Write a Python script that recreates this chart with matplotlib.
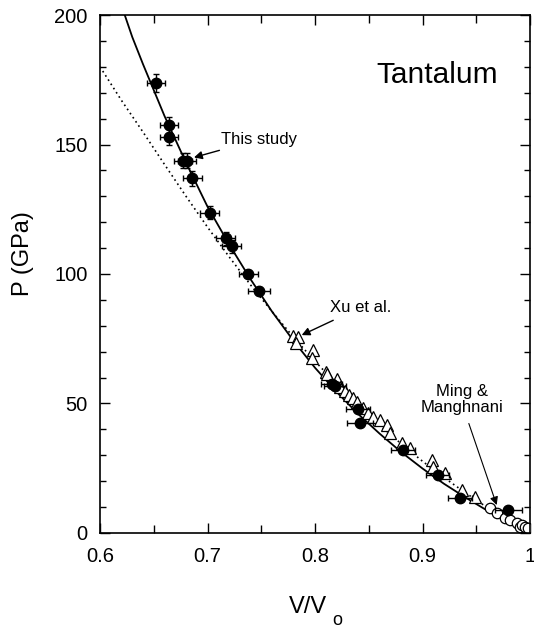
"""
Tantalum compression curve: P versus V/Vo with this study, Xu et al. and Ming & Manghnani.
"""
import matplotlib
matplotlib.use("Agg")
import matplotlib.pyplot as plt
from matplotlib.ticker import MultipleLocator, FixedLocator

plt.rcParams["font.family"] = ["Liberation Sans", "DejaVu Sans"]

# This study (filled circles with error bars)
study_v = [0.652, 0.664, 0.664, 0.6775, 0.681, 0.686, 0.702, 0.717, 0.7225,
           0.738, 0.748, 0.8155, 0.8186, 0.840, 0.842, 0.882, 0.914, 0.935, 0.9798]
study_p = [173.9, 157.5, 153.0, 143.8, 143.8, 136.9, 123.7, 113.8, 110.8,
           99.9, 93.5, 57.5, 56.8, 47.8, 42.4, 32.0, 22.4, 13.4, 8.9]
study_verr = [0.0085, 0.0085, 0.0085, 0.0085, 0.0085, 0.0085, 0.009, 0.009, 0.009,
              0.009, 0.010, 0.010, 0.010, 0.011, 0.012, 0.011, 0.011, 0.011, 0.0125]
study_perr = [3.5, 3.0, 3.0, 3.0, 3.0, 3.0, 2.5, 2.5, 2.5,
              1.5, 1.5, 1.5, 1.5, 1.0, 1.0, 1.0, 1.0, 1.0, 1.0]

# Xu et al. (open triangles)
xu_v = [0.7798, 0.7845, 0.7823, 0.7984, 0.7969, 0.8102, 0.8109, 0.8202, 0.8233,
        0.8279, 0.8319, 0.8356, 0.8393, 0.8449, 0.8496, 0.8542, 0.8605, 0.8667,
        0.8698, 0.8806, 0.8884, 0.9086, 0.9100, 0.921, 0.9365, 0.9488]
xu_p = [76.1, 75.6, 73.5, 70.7, 67.5, 62.3, 61.4, 59.3, 56.5,
        54.9, 53.3, 52.0, 50.7, 48.1, 46.2, 44.9, 43.6, 41.7,
        38.5, 34.6, 32.7, 28.2, 25.4, 23.0, 16.6, 14.0]

# Ming & Manghnani (open circles)
ming_v = [0.9628, 0.969, 0.9767, 0.9814, 0.9876, 0.9907, 0.9923, 0.9953, 0.9984]
ming_p = [9.5, 7.8, 5.7, 5.0, 4.0, 2.2, 3.1, 2.2, 1.8]

# Fitted curve for this study (solid)
fit_v = [0.623, 0.63, 0.64, 0.65, 0.66, 0.67, 0.68, 0.69, 0.70, 0.72, 0.74, 0.76,
         0.78, 0.80, 0.82, 0.84, 0.86, 0.88, 0.90, 0.92, 0.94, 0.96, 0.98, 1.00]
fit_p = [200.0, 191.5, 181.0, 171.0, 161.0, 152.0, 143.0, 134.5, 126.0, 111.5, 98.0, 85.5,
         74.2, 63.8, 54.5, 46.0, 38.4, 31.3, 24.9, 19.0, 13.7, 8.7, 4.2, 0.0]

# Comparison curve (dotted)
dot_v = [0.60, 0.62, 0.64, 0.66, 0.68, 0.70, 0.72, 0.74, 0.76, 0.78, 0.80, 0.82,
         0.84, 0.86, 0.88, 0.90, 0.92, 0.94, 0.96, 0.98, 1.00]
dot_p = [180.0, 167.0, 154.8, 142.3, 130.0, 118.1, 106.7, 95.8, 85.5, 75.6, 66.3, 57.6,
         49.4, 41.7, 34.5, 27.7, 21.4, 15.5, 9.9, 4.8, 0.0]

fig = plt.figure(figsize=(5.34, 6.28), dpi=100)
ax = fig.add_axes([0.1873, 0.1513, 0.8052, 0.8248])

ax.plot(dot_v, dot_p, color="black", lw=1.2, linestyle=(0, (1, 2)))
ax.plot(fit_v, fit_p, color="black", lw=1.3)
ax.plot(xu_v, xu_p, linestyle="none", marker="^", ms=8, mfc="white",
        mec="black", mew=0.9)
ax.plot(ming_v, ming_p, linestyle="none", marker="o", ms=7.5, mfc="white",
        mec="black", mew=0.9)
ax.errorbar(study_v, study_p, xerr=study_verr, yerr=study_perr, fmt="o",
            ms=7.5, color="black", ecolor="black", elinewidth=1.0, capsize=2.5,
            capthick=1.0)

ax.set_xlim(0.6, 1.0)
ax.set_ylim(0, 200)
ax.xaxis.set_major_locator(FixedLocator([0.6, 0.7, 0.8, 0.9, 1.0]))
ax.set_xticklabels(["0.6", "0.7", "0.8", "0.9", "1"])
ax.xaxis.set_minor_locator(MultipleLocator(0.05))
ax.yaxis.set_major_locator(MultipleLocator(50))
ax.yaxis.set_minor_locator(MultipleLocator(10))
ax.tick_params(which="both", direction="in", top=True, right=True,
               labelsize=14.5, width=1.0)
ax.tick_params(axis="x", which="major", length=7, pad=10)
ax.tick_params(axis="x", which="minor", length=6)
ax.tick_params(axis="y", which="major", length=7, pad=9)
ax.tick_params(axis="y", which="minor", length=4)
for spine in ax.spines.values():
    spine.set_linewidth(1.2)

ax.set_ylabel("P (GPa)", fontsize=17, va="center")
ax.yaxis.set_label_coords(-0.179, 0.54)
ax.set_xlabel("V/V", fontsize=17, va="top")
ax.xaxis.set_label_coords(0.484, -0.121)
ax.text(0.541, -0.168, "o", transform=ax.transAxes, fontsize=13,
        ha="left", va="center")

ax.text(0.784, 0.885, "Tantalum", transform=ax.transAxes, fontsize=21.5,
        ha="center", va="center")

ax.annotate("This study", xy=(0.6874, 145.0), xytext=(0.7125, 152.0),
            fontsize=12, ha="left", va="center",
            arrowprops=dict(arrowstyle="-|>", color="black", lw=1.0,
                            mutation_scale=12, shrinkA=2, shrinkB=0))
ax.annotate("Xu et al.", xy=(0.7876, 76.4), xytext=(0.8135, 87.0),
            fontsize=12, ha="left", va="center",
            arrowprops=dict(arrowstyle="-|>", color="black", lw=1.0,
                            mutation_scale=12, shrinkA=4, shrinkB=0))
ax.annotate("Ming &\nManghnani", xy=(0.969, 10.8), xytext=(0.9367, 51.4),
            fontsize=12, ha="center", va="center", linespacing=1.1,
            arrowprops=dict(arrowstyle="-|>", color="black", lw=0.8,
                            mutation_scale=12, shrinkA=4, shrinkB=0,
                            relpos=(0.55, 0.0)))

fig.savefig("out.png", dpi=100)
plt.close(fig)
